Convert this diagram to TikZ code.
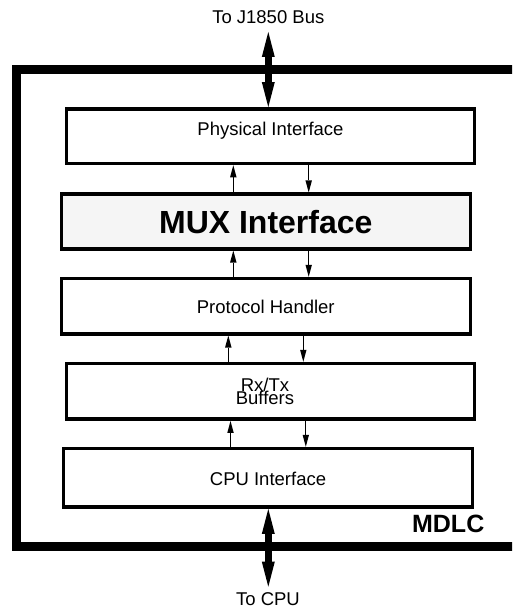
\documentclass[tikz,border=0pt]{standalone}
\usepackage{fontspec}
\setmainfont{Liberation Sans}
\usetikzlibrary{arrows.meta}
\begin{document}
\begin{tikzpicture}[x=1pt,y=-1pt,
  box/.style={draw=black, line width=3.5pt, inner sep=0pt, fill=white},
  lbl/.style={font=\fontsize{18.5pt}{22pt}\selectfont},
  link/.style={line width=1.3pt, -{Triangle[length=12pt,width=6.5pt,line width=0pt]}},
  bus/.style={line width=7pt, {Triangle[length=25pt,width=13pt,line width=0pt]}-{Triangle[length=25pt,width=13pt,line width=0pt]}},
  frameline/.style={line width=9pt, line join=miter}]
\useasboundingbox (0,0) rectangle (512,610);
\begin{scope}
  \clip (0,0) rectangle (512,610);
  \draw[frameline] (540,69.5) -- (16.5,69.5) -- (16.5,546.7) -- (540,546.7);
\end{scope}

\node[box, lbl, minimum width=408.4pt, minimum height=54.7pt, text height=5pt, text depth=5.9pt] (phys) at (270.5,136.15) {Physical Interface};
\node[box, fill=black!4, minimum width=409pt, minimum height=54.6pt, font=\bfseries\fontsize{32pt}{38pt}\selectfont, text height=23.6pt, text depth=0pt] (mux) at (265.8,221.5) {MUX Interface};
\node[box, lbl, minimum width=409pt, minimum height=55.3pt, text height=14.3pt, text depth=0pt] (proto) at (265.8,306.15) {Protocol Handler};
\node[box, lbl, minimum width=408.4pt, minimum height=55.7pt, text height=5pt, text depth=4.3pt] (buf) at (270.5,391.35)
  {\vtop{\lineskiplimit=-100pt\baselineskip=12.6pt
    \hbox to 0pt{\hss Rx/Tx\hss\kern11pt}\hbox to 0pt{\hss Buffers\hss\kern11pt}}};
\node[box, lbl, minimum width=408.6pt, minimum height=58.7pt, text height=14.3pt, text depth=0pt] (cpu) at (268,477.85) {CPU Interface};

\node[lbl, anchor=base] (tj) at (268.3,23.3) {To J1850 Bus};
\node[lbl, anchor=base] (tcpu) at (268,605) {To CPU};
\node[font=\bfseries\fontsize{25pt}{30pt}\selectfont, anchor=base] (mdlc) at (448.2,532.7) {MDLC};

\coordinate (jtop) at (268.3,32);
\coordinate (cbot) at (268.3,586.7);
\draw[bus] (jtop) -- (phys.north -| jtop);
\draw[bus] (cpu.south -| cbot) -- (cbot);

\coordinate (u1) at (233.3,0);
\coordinate (d1) at (308.7,0);
\coordinate (u3) at (228.3,0);
\coordinate (d3) at (303.3,0);
\coordinate (u4) at (230.5,0);
\coordinate (d4) at (305.8,0);
\draw[link] (mux.north -| u1) -- (phys.south -| u1);
\draw[link] (phys.south -| d1) -- (mux.north -| d1);
\draw[link] (proto.north -| u1) -- (mux.south -| u1);
\draw[link] (mux.south -| d1) -- (proto.north -| d1);
\draw[link] (buf.north -| u3) -- (proto.south -| u3);
\draw[link] (proto.south -| d3) -- (buf.north -| d3);
\draw[link] (cpu.north -| u4) -- (buf.south -| u4);
\draw[link] (buf.south -| d4) -- (cpu.north -| d4);
\end{tikzpicture}
\end{document}
